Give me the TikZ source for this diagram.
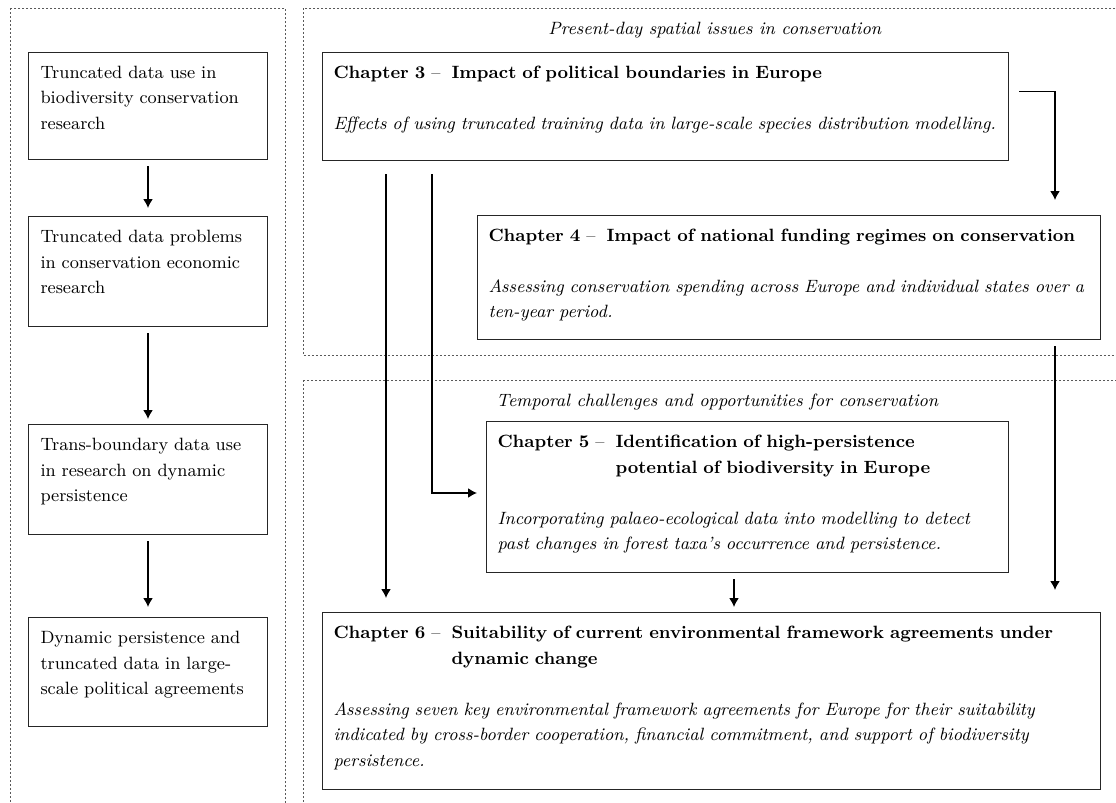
\documentclass[tikz,border=0pt]{standalone}
\usepackage{fontspec}
\usetikzlibrary{shapes,arrows.meta,positioning}

\begin{document}
\begin{tikzpicture}[x=0.5pt,y=-0.5pt]
    \tikzset{
        box/.style = {rectangle, draw=black!85, line width=0.5pt, inner xsep=6pt, inner ysep=0pt, align=left, text height=13pt, font=\fontsize{8.9}{12.75}\selectfont},
        leftbox/.style = {box, text width=107.5pt},
        chapter/.style = {box, inner xsep=5.5pt, anchor=north west},
        line/.style = {draw=black, line width=0.75pt, shorten <=3pt, -{Latex[length=4.5pt,width=5pt]}},
        area/.style = {draw=black!65, line width=0.5pt, dash pattern=on 1.2pt off 0.8pt},
        title/.style = {anchor=west, inner sep=0pt, font=\fontsize{8.9}{12.75}\selectfont\itshape},
    }
    
    \useasboundingbox (0,0) rectangle (1116,803);
    
    \path [area] (10,8) rectangle (285,830);
    \path [area] (303,8) rectangle (1140,355);
    \path [area] (303,380) rectangle (1140,830);
    
    \node[leftbox](use)[text depth=40.5pt, anchor=north west] at (28,52) {Truncated data use in\\ biodiversity conservation\\ research};
    
    \node[leftbox](problems)[text depth=42pt, below=28pt of use] {Truncated data problems\\ in conservation economic\\ research};
    
    \node[leftbox](transboundary)[text depth=42pt, below=48.5pt of problems] {Trans-boundary data use\\ in research on dynamic\\ persistence};
    
    \node[leftbox](agreements)[text depth=41.5pt, below=41pt of transboundary] {Dynamic persistence and\\ truncated data in large-\\ scale political agreements};
    
    \node[title](spatial) at (548,30) {Present-day spatial issues in conservation};
    
    \node[title](temporal) at (496,402) {Temporal challenges and opportunities for conservation};
    
    \node[chapter](impact)[text width=332pt, text depth=41pt] at (322,52) {\makebox[59pt][l]{\textbf{Chapter 3} –}\textbf{Impact of political boundaries in Europe}\\[12.75pt]
        \textit{Effects of using truncated training data in large-scale species distribution modelling.}};
    
    \node[chapter](funding)[text width=300.5pt, text depth=49pt] at (477,215) {\makebox[59pt][l]{\textbf{Chapter 4} –}\textbf{Impact of national funding regimes on conservation}\\[12.75pt]
        \textit{Assessing conservation spending across Europe and individual states over a}\\
        \textit{ten-year period.}};
    
    \node[chapter](persistence)[text width=250pt, text depth=62.5pt] at (486,421) {\makebox[59pt][l]{\textbf{Chapter 5} –}\textbf{Identification of high-persistence}\\
        \hspace*{59pt}\textbf{potential of biodiversity in Europe}\\[12.75pt]
        \textit{Incorporating palaeo-ecological data into modelling to detect}\\
        \textit{past changes in forest taxa’s occurrence and persistence.}};
    
    \node[chapter](suitability)[text width=378pt, text depth=75.5pt] at (322,612) {\makebox[59pt][l]{\textbf{Chapter 6} –}\textbf{Suitability of current environmental framework agreements under}\\
        \hspace*{59pt}\textbf{dynamic change}\\[12.75pt]
        \textit{Assessing seven key environmental framework agreements for Europe for their suitability}\\
        \textit{indicated by cross-border cooperation, financial commitment, and support of biodiversity}\\
        \textit{persistence.}};
    
    \path [line, shorten >=4pt] (use) -- (problems);
    \path [line, shorten >=2.5pt] (problems) -- (transboundary);
    \path [line, shorten >=5pt] (transboundary) -- (agreements);
    
    \path [line, shorten <=0pt] ([shift={(10,-15)}]impact.east) -| ([shift={(-46,-15)}]funding.north east);
    \path [line, shorten <=0pt] ([shift={(64,13)}]impact.south west) -- ([shift={(64,-14)}]suitability.north west);
    \path [line, shorten <=0pt] ([shift={(110,13)}]impact.south west) |- ([shift={(-9,-4)}]persistence.west);
    \path [line, shorten <=0pt] ([shift={(-46,6)}]funding.south east) -- ([shift={(-46,-22)}]suitability.north east);
    \path [line, shorten <=0pt] ([shift={(248,6)}]persistence.south west) -- ([shift={(412,-5)}]suitability.north west);

\end{tikzpicture}
\end{document}
